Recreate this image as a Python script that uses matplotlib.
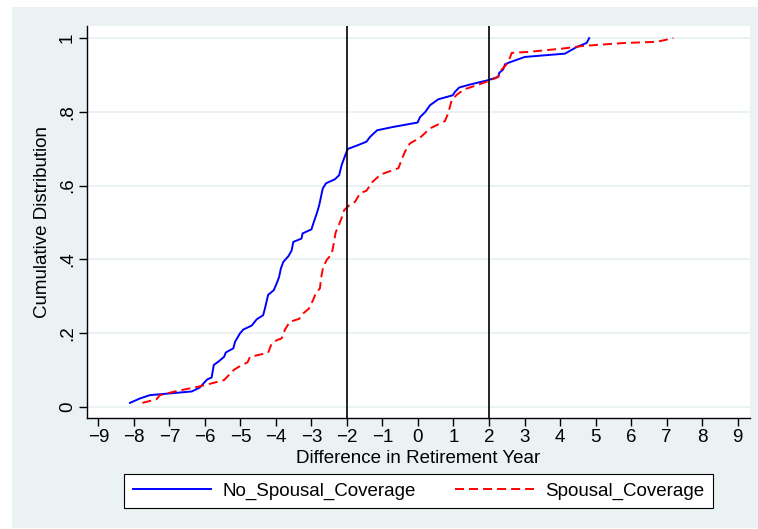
import matplotlib
matplotlib.use("Agg")
from matplotlib import pyplot as plt
from matplotlib.patches import Rectangle

plt.rcParams["font.family"] = ["Liberation Sans", "DejaVu Sans"]
plt.rcParams["lines.scale_dashes"] = False

# retirement year difference vs. cumulative share, by spousal coverage
no_cov_x = [-8.11, -7.83, -7.55, -6.37, -6.14, -6.00, -5.93, -5.81, -5.75, -5.62, -5.46, -5.41,
            -5.20, -5.15, -5.01, -4.92, -4.68, -4.54, -4.36, -4.31, -4.22, -4.06, -3.98, -3.91,
            -3.86, -3.79, -3.65, -3.56, -3.51, -3.28, -3.25, -3.00, -2.93, -2.85, -2.78, -2.71,
            -2.68, -2.59, -2.34, -2.22, -2.15, -2.08, -1.98, -1.68, -1.45, -1.35, -1.15, -0.70,
            -0.01, 0.06, 0.20, 0.34, 0.57, 0.98, 1.04, 1.16, 1.46, 1.98, 2.26, 2.29, 2.40, 2.45,
            2.57, 3.01, 4.14, 4.47, 4.75, 4.82]
no_cov_y = [0.010, 0.022, 0.031, 0.041, 0.052, 0.067, 0.074, 0.079, 0.113, 0.122, 0.135, 0.147,
            0.158, 0.176, 0.199, 0.209, 0.220, 0.237, 0.248, 0.266, 0.303, 0.316, 0.334, 0.352,
            0.375, 0.393, 0.408, 0.423, 0.447, 0.456, 0.470, 0.481, 0.502, 0.524, 0.547, 0.579,
            0.592, 0.606, 0.617, 0.628, 0.655, 0.674, 0.699, 0.710, 0.719, 0.732, 0.750, 0.759,
            0.771, 0.786, 0.799, 0.818, 0.834, 0.845, 0.854, 0.866, 0.874, 0.886, 0.895, 0.906,
            0.915, 0.929, 0.934, 0.949, 0.958, 0.976, 0.987, 1.000]

cov_x = [-7.76, -7.36, -7.27, -6.80, -6.19, -5.81, -5.46, -5.30, -5.18, -5.01, -4.80, -4.73,
         -4.22, -4.12, -3.98, -3.84, -3.75, -3.61, -3.35, -3.23, -3.07, -2.95, -2.88, -2.76,
         -2.73, -2.67, -2.57, -2.43, -2.37, -2.32, -2.22, -2.15, -2.08, -1.93, -1.77, -1.63,
         -1.45, -1.28, -1.05, -0.55, -0.46, -0.37, -0.23, 0.06, 0.34, 0.76, 0.85, 0.95, 1.09,
         1.30, 1.65, 2.00, 2.26, 2.31, 2.48, 2.59, 2.64, 3.15, 4.09, 4.66, 5.83, 6.72, 7.19]
cov_y = [0.010, 0.020, 0.031, 0.042, 0.054, 0.063, 0.072, 0.088, 0.100, 0.110, 0.120, 0.135,
         0.146, 0.171, 0.180, 0.185, 0.208, 0.230, 0.238, 0.253, 0.266, 0.290, 0.307, 0.321,
         0.348, 0.379, 0.398, 0.414, 0.443, 0.472, 0.495, 0.512, 0.533, 0.547, 0.556, 0.579,
         0.586, 0.610, 0.630, 0.647, 0.670, 0.691, 0.714, 0.730, 0.755, 0.775, 0.796, 0.832,
         0.846, 0.861, 0.872, 0.884, 0.895, 0.910, 0.927, 0.947, 0.960, 0.963, 0.972, 0.979,
         0.987, 0.990, 1.000]

cutoffs = [-2, 2]
x_ticks = list(range(-9, 10))
y_ticks = [0, 0.2, 0.4, 0.6, 0.8, 1.0]
y_tick_labels = ["0", ".2", ".4", ".6", ".8", "1"]

bg = "#eaf2f3"
fs = 13.5
fig = plt.figure(figsize=(7.58, 5.29), dpi=100, facecolor="white")
fig.patches.append(Rectangle((12 / 758, 1 / 529), 746 / 758, 521 / 529,
                             transform=fig.transFigure, facecolor=bg, edgecolor="none", zorder=-5))

ax = fig.add_axes([87 / 758, 111 / 529, 663 / 758, 392 / 529])
ax.set_facecolor("white")

ax.plot(no_cov_x, no_cov_y, color="#0000ff", lw=1.4, label="No_Spousal_Coverage", zorder=3)
ax.plot(cov_x, cov_y, color="#ff0000", lw=1.4, dashes=(6.5, 3.6), label="Spousal_Coverage", zorder=3)
for c in cutoffs:
    ax.axvline(c, color="black", lw=1.2, zorder=4)

ax.set_xlim(-9.32, 9.35)
ax.set_ylim(-0.031, 1.033)
ax.set_xticks(x_ticks)
ax.set_xticklabels([str(t).replace("-", "\u2212") for t in x_ticks])
ax.set_yticks(y_ticks)
ax.set_yticklabels(y_tick_labels, rotation=90, va="center")
ax.grid(axis="y", color=bg, lw=1.5)
ax.set_axisbelow(True)

for side in ["top", "right"]:
    ax.spines[side].set_visible(False)
for side in ["left", "bottom"]:
    ax.spines[side].set_linewidth(1.0)
ax.tick_params(direction="out", length=6, width=1.0, labelsize=fs, colors="black", pad=2)

ax.set_xlabel("Difference in Retirement Year", fontsize=fs, labelpad=3)
ax.set_ylabel("Cumulative Distribution", fontsize=fs, labelpad=6)

leg = fig.legend(loc="center", bbox_to_anchor=(418.5 / 758, 38 / 529), ncol=2, fontsize=fs,
                 handlelength=4.2, columnspacing=2.1, frameon=True, fancybox=False,
                 borderpad=0.45, handletextpad=0.6)
leg.get_frame().set_edgecolor("black")
leg.get_frame().set_linewidth(0.8)
leg.get_frame().set_facecolor("white")
leg.get_frame().set_alpha(1)

fig.savefig("out.png", dpi=100, facecolor=fig.get_facecolor())
